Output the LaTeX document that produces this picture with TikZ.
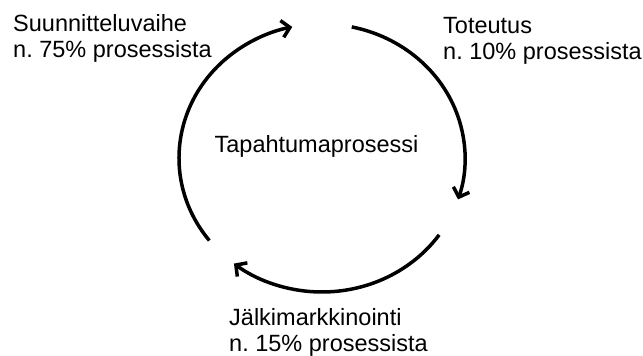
\documentclass[tikz,border=0pt]{standalone}
\usepackage{fontspec}
\setmainfont{Liberation Sans}
\usetikzlibrary{arrows.meta}
\frenchspacing
\begin{document}
\begin{tikzpicture}[x=1pt,y=1pt,
  lbl/.style={anchor=base west,inner sep=0pt,align=left,font=\fontsize{23.5}{26}\selectfont},
  cyc/.style={line width=3.5pt,-{Straight Barb[length=8pt,width=17pt,line width=3.5pt]}}]
\useasboundingbox (0,0) rectangle (643,356);
\coordinate (c) at (322,198);
\node[lbl] (s) at (13,298) {Suunnitteluvaihe\\n. 75\% prosessista};
\node[lbl] (t) at (443,296) {Toteutus\\n. 10\% prosessista};
\node[lbl,anchor=base] (p) at (316.5,203) {Tapahtumaprosessi};
\node[lbl] (j) at (229,4) {Jälkimarkkinointi\\n. 15\% prosessista};
\draw[cyc] (c) ++(218:143 and 134) arc[start angle=218,end angle=102,x radius=143,y radius=134];
\draw[cyc] (c) ++(78:143 and 134) arc[start angle=78,end angle=-18,x radius=143,y radius=134];
\draw[cyc] (c) ++(-35:143 and 134) arc[start angle=-35,end angle=-128,x radius=143,y radius=134];
\end{tikzpicture}
\end{document}
